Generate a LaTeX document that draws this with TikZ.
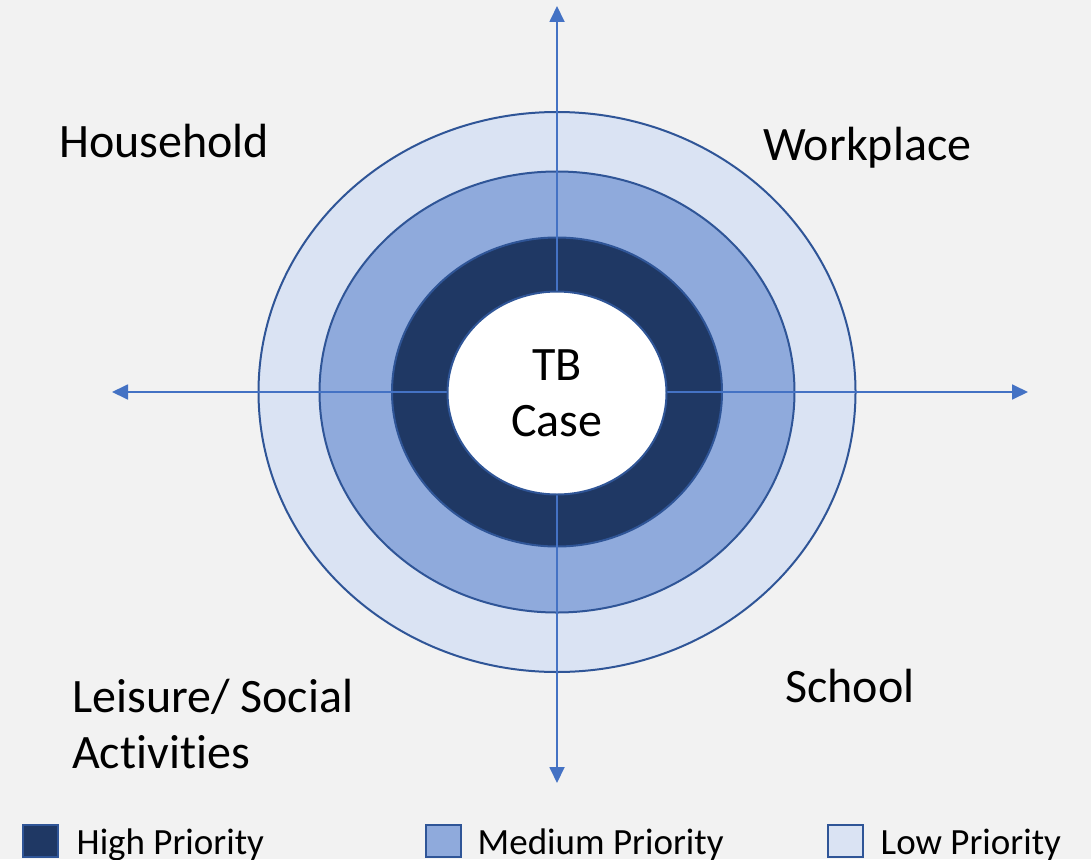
\documentclass[tikz,border=0pt]{standalone}
\usepackage{fontspec}
\setmainfont[Ligatures=NoCommon]{Carlito}
\usepackage{tikz}
\usetikzlibrary{arrows.meta,shapes.geometric,positioning}

\definecolor{bgGray}{HTML}{F2F2F2}
\definecolor{highBlue}{HTML}{1F3864}
\definecolor{medBlue}{HTML}{8FAADC}
\definecolor{lowBlue}{HTML}{DAE3F3}
\definecolor{edgeBlue}{HTML}{2F5597}
\definecolor{axisBlue}{HTML}{4472C4}

\tikzset{
  ring/.style={ellipse, draw=edgeBlue, line width=2pt, inner sep=0pt},
  axis/.style={draw=axisBlue, line width=1.8pt,
    {Triangle[length=16pt,width=15pt]}-{Triangle[length=16pt,width=15pt]}},
  place/.style={font=\fontsize{48}{56}\selectfont, inner sep=0pt, anchor=base west},
  key/.style={draw=edgeBlue, line width=2pt, minimum width=35pt,
    minimum height=32pt, inner sep=0pt},
  keytext/.style={font=\fontsize{37}{43}\selectfont, inner sep=0pt, anchor=base west}
}

\begin{document}
\begin{tikzpicture}[x=1pt, y=-1pt]
      \fill[bgGray] (0,0) rectangle (1091,859);
      \useasboundingbox (0,0) rectangle (1091,859);
      % rings
      \node[ring, fill=lowBlue, minimum width=597pt, minimum height=560pt] (lring) at (557,392) {};
      \node[ring, fill=medBlue, minimum width=475pt, minimum height=441pt] (mring) at (557,392) {};
      \node[ring, fill=highBlue, minimum width=330pt, minimum height=309pt] (hring) at (557,392) {};
      % axes
      \coordinate (top) at (557,6);
      \coordinate (bottom) at (557,783);
      \coordinate (left) at (112,392);
      \coordinate (right) at (1028,392);
      \draw[axis] (top) -- (bottom);
      \draw[axis] (left) -- (right);
      \node[ring, fill=white, minimum width=219pt, minimum height=203pt, align=center,
        font=\fontsize{48}{56}\selectfont] (case) at (557,393) {TB\\Case};
      % settings
      \node[place] (household) at (59,157) {Household};
      \node[place] (workplace) at (763,160) {Workplace};
      \node[place] (school) at (785,702) {School};
      \node[place] (leisure) at (72,712) {Leisure/ Social};
      \node[place] (activities) at (72,768) {Activities};
      % legend
      \node[key, fill=highBlue] (hkey) at (40,841) {};
      \node[key, fill=medBlue] (mkey) at (443,841) {};
      \node[key, fill=lowBlue] (lkey) at (845,841) {};
      \node[keytext] (htext) at ([xshift=18pt, yshift=4pt]hkey.south east) {High Priority};
      \node[keytext] (mtext) at ([xshift=16pt, yshift=4pt]mkey.south east) {Medium Priority};
      \node[keytext] (ltext) at ([xshift=17pt, yshift=4pt]lkey.south east) {Low Priority};
    \end{tikzpicture}
\end{document}
